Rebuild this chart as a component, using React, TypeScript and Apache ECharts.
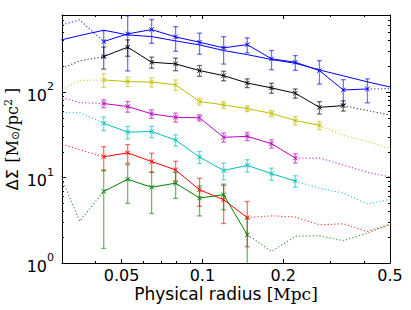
import React, { useEffect, useRef } from "react";
import * as echarts from "echarts";

// Radial bins (Mpc); measured profiles start at RADIUS[2]
const RADIUS = [0.0284, 0.0349, 0.0429, 0.0527, 0.0647, 0.0795, 0.0976, 0.12, 0.147, 0.181, 0.222, 0.273, 0.335, 0.412, 0.506];
const FIRST = 2;

const BLUE = [391, 481, 540, 443, 384, 330, 360, 245, 224, 179, 106, 109];
const BLUE_ERR = [134, 304, 167, 142, 106, 117, 72, 62, 44, 55, 34, 34];
const BLUE_LEFT = [584, 701];
const BLUE_RIGHT = [110];
const BLUE_MODEL = [394, 460, 531, 468, 447, 398, 357, 307, 275, 241, 218, 182, 155, 132, 114];

const BLACK = [261, 336, 224, 214, 179, 156, 128, 112, 97, 66.4, 69.5];
const BLACK_ERR = [75, 73, 33, 36, 26, 20, 15, 15, 12, 11, 9.5];
const BLACK_LEFT = [177, 232];
const BLACK_RIGHT = [61, 53.5];

const YELLOW = [139, 133, 131, 122, 77.6, 71, 64.1, 56.3, 46.5, 40.9];
const YELLOW_ERR = [25, 17, 16, 17, 7.5, 6.6, 5, 4.6, 5.3, 4.4];
const YELLOW_LEFT = [97.6, 137];
const YELLOW_RIGHT = [31.2, 26.5, 21.5];

const MAGENTA = [73.6, 67.9, 55.7, 50.7, 50.1, 29.6, 30.4, 24.9, 16.9];
const MAGENTA_ERR = [7.7, 9.7, 6.4, 6.1, 4.2, 3.6, 3.3, 2.8, 2.1];
const MAGENTA_LEFT = [90.8, 75.5];
const MAGENTA_RIGHT = [16.9, 14.1, 11.5, 10.1];

const CYAN = [43.2, 34.0, 34.6, 27.5, 17.4, 12.1, 13.9, 11.1, 9.1];
const CYAN_ERR = [7.8, 5.6, 5.3, 4.2, 2.8, 2.7, 2.3, 1.8, 1.4];
const CYAN_LEFT = [57.7, 57.7];
const CYAN_RIGHT = [7.5, 6.6, 4.9, 5.6];

const RED = [17.5, 19.5, 15.4, 12.3, 7.2, 5.5, 3.4];
const RED_ERR = [5.5, 4.8, 3.9, 3.2, 2.6, 2.6, 1.85];
const RED_LEFT = [25.9, 21.2];
const RED_RIGHT = [3.57, 3.45, 2.8, 2.88, 2.34, 2.88];

const GREEN = [6.88, 9.55, 7.7, 8.6, 5.76, 6.3, 2.14];
const GREEN_ERR = [5.4, 4.55, 3.9, 2.9, 2.2, 2.1, 1.2];
const GREEN_LEFT = [14.7, 3.07];
const GREEN_RIGHT = [1.37, 2.05, 2.09, 1.82, 2.24, 2.86];

const X_RANGE = [0.03, 0.5];
const Y_RANGE = [1, 800];
const X_LABEL_TICKS = [0.05, 0.1, 0.2, 0.5];
const X_LABELS = ["0.05", "0.1", "0.2", "0.5"];
const X_MINOR_TICKS = [0.03, 0.04, 0.06, 0.07, 0.08, 0.09, 0.3, 0.4];
const Y_MAJOR_TICKS = [1, 10, 100];
const Y_MINOR_TICKS = [2, 3, 4, 5, 6, 7, 8, 9, 20, 30, 40, 50, 60, 70, 80, 90, 200, 300, 400, 500, 600, 700, 800];

const SAMPLES = [
  { color: "#0000ff", data: BLUE, err: BLUE_ERR, left: BLUE_LEFT, right: BLUE_RIGHT },
  { color: "#000000", data: BLACK, err: BLACK_ERR, left: BLACK_LEFT, right: BLACK_RIGHT },
  { color: "#bfbf00", data: YELLOW, err: YELLOW_ERR, left: YELLOW_LEFT, right: YELLOW_RIGHT },
  { color: "#bf00bf", data: MAGENTA, err: MAGENTA_ERR, left: MAGENTA_LEFT, right: MAGENTA_RIGHT },
  { color: "#00bfbf", data: CYAN, err: CYAN_ERR, left: CYAN_LEFT, right: CYAN_RIGHT },
  { color: "#ff0000", data: RED, err: RED_ERR, left: RED_LEFT, right: RED_RIGHT },
  { color: "#008000", data: GREEN, err: GREEN_ERR, left: GREEN_LEFT, right: GREEN_RIGHT },
];

const L = (v: number) => Math.log10(v);
const XMIN = L(X_RANGE[0]);
const XMAX = L(X_RANGE[1]);
const YMIN = L(Y_RANGE[0]);
const YMAX = L(Y_RANGE[1]);

function buildOption() {
  const series: any[] = [];
  const base = { xAxisIndex: 0, yAxisIndex: 0, silent: true, symbol: "none", showSymbol: false, clip: true };

  // blue model curve
  series.push({
    ...base,
    type: "line",
    data: BLUE_MODEL.map((v, i) => [L(RADIUS[i]), L(v)]),
    lineStyle: { color: "#0000ff", width: 1 },
    z: 2,
  });

  SAMPLES.forEach((s, si) => {
    const n = s.data.length;
    const leftPts = s.left.map((v, i) => [L(RADIUS[i]), L(v)]);
    leftPts.push([L(RADIUS[FIRST]), L(s.data[0])]);
    const rightPts: number[][] = [[L(RADIUS[FIRST + n - 1]), L(s.data[n - 1])]];
    s.right.forEach((v, j) => rightPts.push([L(RADIUS[FIRST + n + j]), L(v)]));
    const dotted = { color: s.color, width: 1.2, type: [1.2, 2.2], opacity: 0.75 };
    series.push({ ...base, type: "line", data: leftPts, lineStyle: dotted, z: 3 + si });
    series.push({ ...base, type: "line", data: rightPts, lineStyle: dotted, z: 3 + si });
    series.push({
      ...base,
      type: "line",
      data: s.data.map((v, i) => [L(RADIUS[FIRST + i]), L(v)]),
      lineStyle: { color: s.color, width: 1 },
      z: 3 + si,
    });
    series.push({
      type: "custom",
      xAxisIndex: 0,
      yAxisIndex: 0,
      silent: true,
      z: 3 + si,
      data: s.data.map((v, i) => {
        const lo = v - s.err[i];
        return [L(RADIUS[FIRST + i]), lo > 0 ? L(lo) : -10, L(v + s.err[i]), L(v)];
      }),
      renderItem: (params: any, api: any) => {
        const x = api.value(0);
        const lo = api.value(1);
        const hi = api.value(2);
        const y = api.value(3);
        const loC = Math.max(lo, YMIN);
        const hiC = Math.min(hi, YMAX);
        const pLo = api.coord([x, loC]);
        const pHi = api.coord([x, hiC]);
        const p = api.coord([x, y]);
        const cap = 2.5;
        const ms = 2.2;
        const barStyle = { stroke: s.color, lineWidth: 1.3, opacity: 0.55 };
        const children: any[] = [
          { type: "line", shape: { x1: pLo[0], y1: pLo[1], x2: pHi[0], y2: pHi[1] }, style: barStyle },
        ];
        if (lo >= YMIN)
          children.push({ type: "line", shape: { x1: pLo[0] - cap, y1: pLo[1], x2: pLo[0] + cap, y2: pLo[1] }, style: barStyle });
        if (hi <= YMAX)
          children.push({ type: "line", shape: { x1: pHi[0] - cap, y1: pHi[1], x2: pHi[0] + cap, y2: pHi[1] }, style: barStyle });
        const mStyle = { stroke: s.color, lineWidth: 1 };
        children.push({ type: "line", shape: { x1: p[0] - ms, y1: p[1] - ms, x2: p[0] + ms, y2: p[1] + ms }, style: mStyle });
        children.push({ type: "line", shape: { x1: p[0] - ms, y1: p[1] + ms, x2: p[0] + ms, y2: p[1] - ms }, style: mStyle });
        return { type: "group", children };
      },
    });
  });

  const lineStyle = { color: "#000", width: 1 };
  const xCommon = { type: "value", min: XMIN, max: XMAX, gridIndex: 0, splitLine: { show: false } };
  const yCommon = { type: "value", min: YMIN, max: YMAX, gridIndex: 0, splitLine: { show: false } };

  const xMajor = X_LABEL_TICKS.map(L);
  const xMinor = X_MINOR_TICKS.map(L);
  const yMajor = Y_MAJOR_TICKS.map(L);
  const yMinor = Y_MINOR_TICKS.map(L);

  const xAxis = [
    {
      ...xCommon,
      position: "bottom",
      axisLine: { show: true, onZero: false, lineStyle },
      axisTick: { show: true, inside: true, length: 4, customValues: xMajor, lineStyle },
      axisLabel: {
        show: true,
        customValues: xMajor,
        margin: 4,
        color: "#000",
        fontFamily: "DejaVu Sans",
        fontSize: 16,
        lineHeight: 16,
        formatter: (v: number) => {
          let best = 0;
          xMajor.forEach((t, i) => {
            if (Math.abs(t - v) < Math.abs(xMajor[best] - v)) best = i;
          });
          return X_LABELS[best];
        },
      },
      name: "{a|Physical radius }{m|[Mpc]}",
      nameLocation: "middle",
      nameGap: 22,
      nameMoveOverlap: false,
      nameTextStyle: {
        verticalAlign: "top",
        rich: {
          a: { fontFamily: "DejaVu Sans", fontSize: 17, color: "#000", lineHeight: 18 },
          m: { fontFamily: "DejaVu Serif", fontSize: 17, color: "#000", lineHeight: 18 },
        },
      },
    },
    {
      ...xCommon,
      position: "bottom",
      axisLine: { show: false, onZero: false },
      axisTick: { show: true, inside: true, length: 2, customValues: xMinor, lineStyle },
      axisLabel: { show: false },
    },
    {
      ...xCommon,
      position: "top",
      axisLine: { show: true, onZero: false, lineStyle },
      axisTick: { show: true, inside: true, length: 4, customValues: xMajor, lineStyle },
      axisLabel: { show: false },
    },
    {
      ...xCommon,
      position: "top",
      axisLine: { show: false, onZero: false },
      axisTick: { show: true, inside: true, length: 2, customValues: xMinor, lineStyle },
      axisLabel: { show: false },
    },
  ];

  const yAxis = [
    {
      ...yCommon,
      position: "left",
      axisLine: { show: true, onZero: false, lineStyle },
      axisTick: { show: true, inside: true, length: 4, customValues: yMajor, lineStyle },
      axisLabel: {
        show: true,
        customValues: yMajor,
        margin: 8,
        formatter: (v: number) => `{b|10}{s|${Math.round(v)}}`,
        rich: {
          b: { fontFamily: "DejaVu Sans", fontSize: 16, color: "#000", lineHeight: 22, verticalAlign: "bottom" },
          s: { fontFamily: "DejaVu Sans", fontSize: 11, color: "#000", lineHeight: 12, verticalAlign: "top" },
        },
      },
      name: "{g|ΔΣ}  {m|[M}{sub|⊙}{m|/pc}{sup|2}{m| ]}",
      nameLocation: "middle",
      nameRotate: 90,
      nameGap: 41,
      nameMoveOverlap: false,
      nameTextStyle: {
        rich: {
          g: { fontFamily: "DejaVu Sans", fontSize: 16, color: "#000", lineHeight: 18, verticalAlign: "middle" },
          m: { fontFamily: "DejaVu Serif", fontSize: 16, color: "#000", lineHeight: 18, verticalAlign: "middle" },
          sub: { fontFamily: "DejaVu Serif", fontSize: 11, color: "#000", lineHeight: 11, verticalAlign: "bottom" },
          sup: { fontFamily: "DejaVu Serif", fontSize: 11, color: "#000", lineHeight: 11, verticalAlign: "top" },
        },
      },
    },
    {
      ...yCommon,
      position: "left",
      axisLine: { show: false, onZero: false },
      axisTick: { show: true, inside: true, length: 2, customValues: yMinor, lineStyle },
      axisLabel: { show: false },
    },
    {
      ...yCommon,
      position: "right",
      axisLine: { show: true, onZero: false, lineStyle },
      axisTick: { show: true, inside: true, length: 4, customValues: yMajor, lineStyle },
      axisLabel: { show: false },
    },
    {
      ...yCommon,
      position: "right",
      axisLine: { show: false, onZero: false },
      axisTick: { show: true, inside: true, length: 2, customValues: yMinor, lineStyle },
      axisLabel: { show: false },
    },
  ];

  return {
    animation: false,
    backgroundColor: "#ffffff",
    grid: { left: 62, right: 21, top: 15, bottom: 47, containLabel: false, outerBoundsMode: "none" },
    xAxis,
    yAxis,
    series,
  };
}

export default function App() {
  const ref = useRef<HTMLDivElement>(null);
  useEffect(() => {
    document.body.style.margin = "0";
    if (!ref.current) return;
    const chart = echarts.init(ref.current, null, { renderer: "svg" });
    chart.setOption(buildOption() as any);
    return () => chart.dispose();
  }, []);
  return <div ref={ref} style={{ width: 411, height: 310 }} />;
}
